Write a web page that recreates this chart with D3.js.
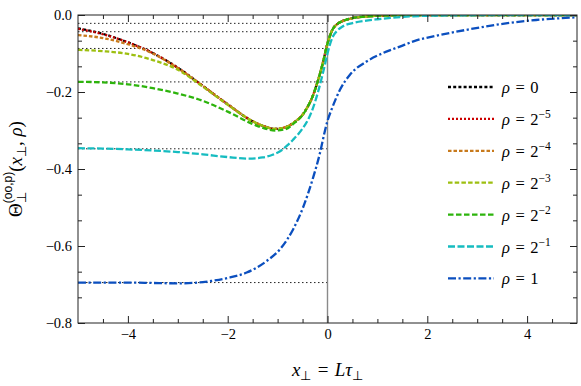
<!DOCTYPE html>
<html>
<head>
<meta charset="utf-8">
<script src="https://cdn.jsdelivr.net/npm/d3@7"></script>
<style>
	body { margin: 0; background: #fff; }
	svg text { white-space: pre; fill: #000; }
	.tick line { stroke: #222; }
</style>
</head>
<body>
<svg id="chart" width="581" height="386"></svg>
<script>
// values
const rho0 = [[-5, -0.0345], [-4.5, -0.049], [-4, -0.071], [-3.5, -0.099], [-3, -0.137], [-2.5, -0.184], [-2, -0.232], [-1.5, -0.276], [-1.25, -0.29], [-1.05, -0.296], [-0.85, -0.292], [-0.65, -0.277], [-0.5, -0.259], [-0.4, -0.239], [-0.3, -0.212], [-0.2, -0.174], [-0.1, -0.128], [0, -0.074], [0.1, -0.038], [0.2, -0.023], [0.3, -0.016], [0.5, -0.008], [0.75, -0.004], [1, -0.002], [1.5, -0.0005], [2.5, 0], [5, 0]];
const rhoM5 = [[-5, -0.036], [-4.5, -0.05], [-4, -0.071], [-3.5, -0.099], [-3, -0.137], [-2.5, -0.184], [-2, -0.232], [-1.5, -0.276], [-1.25, -0.29], [-1.05, -0.296], [-0.85, -0.292], [-0.65, -0.277], [-0.5, -0.259], [-0.4, -0.239], [-0.3, -0.212], [-0.2, -0.174], [-0.1, -0.128], [0, -0.074], [0.1, -0.038], [0.2, -0.023], [0.3, -0.016], [0.5, -0.008], [0.75, -0.004], [1, -0.002], [1.5, -0.0005], [2.5, 0], [5, 0]];
const rhoM4 = [[-5, -0.052], [-4.5, -0.06], [-4, -0.076], [-3.5, -0.1], [-3, -0.138], [-2.5, -0.184], [-2, -0.232], [-1.5, -0.276], [-1.25, -0.29], [-1.05, -0.296], [-0.85, -0.292], [-0.65, -0.277], [-0.5, -0.259], [-0.4, -0.239], [-0.3, -0.212], [-0.2, -0.174], [-0.1, -0.128], [0, -0.074], [0.1, -0.038], [0.2, -0.023], [0.3, -0.016], [0.5, -0.008], [0.75, -0.004], [1, -0.002], [1.5, -0.0005], [2.5, 0], [5, 0]];
const rhoM3 = [[-5, -0.0906], [-4.5, -0.094], [-4, -0.101], [-3.5, -0.117], [-3, -0.142], [-2.5, -0.186], [-2, -0.233], [-1.5, -0.276], [-1.25, -0.29], [-1.05, -0.296], [-0.85, -0.292], [-0.65, -0.277], [-0.5, -0.259], [-0.4, -0.239], [-0.3, -0.212], [-0.2, -0.174], [-0.1, -0.128], [0, -0.074], [0.1, -0.038], [0.2, -0.023], [0.3, -0.016], [0.5, -0.008], [0.75, -0.004], [1, -0.002], [1.5, -0.0005], [2.5, 0], [5, 0]];
const rhoM2 = [[-5, -0.1735], [-4.5, -0.175], [-4, -0.18], [-3.5, -0.19], [-3, -0.204], [-2.5, -0.223], [-2, -0.251], [-1.5, -0.283], [-1.25, -0.295], [-1.05, -0.3], [-0.85, -0.297], [-0.65, -0.279], [-0.5, -0.26], [-0.4, -0.239], [-0.3, -0.212], [-0.2, -0.174], [-0.1, -0.128], [0, -0.074], [0.1, -0.038], [0.2, -0.023], [0.3, -0.016], [0.5, -0.008], [0.75, -0.004], [1, -0.002], [1.5, -0.0005], [2.5, 0], [5, 0]];
const rhoM1 = [[-5, -0.346], [-4.5, -0.347], [-4, -0.349], [-3.5, -0.352], [-3, -0.356], [-2.5, -0.362], [-2, -0.369], [-1.6, -0.373], [-1.3, -0.37], [-1.1, -0.363], [-0.95, -0.354], [-0.8, -0.338], [-0.69, -0.324], [-0.5, -0.295], [-0.39, -0.272], [-0.3, -0.245], [-0.19, -0.2], [-0.1, -0.155], [-0.05, -0.128], [0, -0.1], [0.1, -0.058], [0.2, -0.04], [0.3, -0.03], [0.5, -0.021], [0.75, -0.015], [1, -0.011], [1.5, -0.005], [2, -0.002], [3, -0.0005], [5, 0]];
const rho1 = [[-5, -0.695], [-4, -0.695], [-3.5, -0.696], [-3, -0.697], [-2.5, -0.694], [-2.29, -0.69], [-2, -0.683], [-1.62, -0.669], [-1.22, -0.639], [-0.95, -0.608], [-0.69, -0.557], [-0.49, -0.5], [-0.29, -0.423], [-0.15, -0.358], [-0.05, -0.3], [0, -0.275], [0.08, -0.246], [0.25, -0.194], [0.45, -0.155], [0.78, -0.121], [1.11, -0.099], [1.45, -0.082], [1.78, -0.066], [2.18, -0.054], [2.85, -0.037], [3.51, -0.023], [4.18, -0.013], [4.85, -0.007], [5, -0.006]];

// asymptotic values for x -> -inf (dotted guides)
const asymptotes = [-0.0217, -0.0434, -0.0869, -0.1738, -0.3475, -0.695];

const legendExp = [null, '−5', '−4', '−3', '−2', '−1', null];
const legendBase = ['0', '2', '2', '2', '2', '2', '1'];
const seriesColors = ['#000000', '#cc0000', '#c87a1c', '#9dbf10', '#2db40c', '#16bcc0', '#0b4fbf'];
const seriesDash = ['3,2.2', '2,2', '3.5,2', '4.5,2.2', '5.5,2.5', '7,2.5', '8,2.5,2.2,2.5'];
const series = [rho0, rhoM5, rhoM4, rhoM3, rhoM2, rhoM1, rho1];

const xMajor = [-4, -2, 0, 2, 4];
const xMinor = [-4.5, -3.5, -3, -2.5, -1.5, -1, -0.5, 0.5, 1, 1.5, 2.5, 3, 3.5, 4.5];
const yMajor = [0, -0.2, -0.4, -0.6, -0.8];
const yMinor = [-1, -2, -4, -5, -7, -8, -10, -11].map(i => i * 0.2 / 3);

const SERIF = "'Liberation Serif', 'Times New Roman', serif";
const SANS = "'Liberation Sans', 'DejaVu Sans', sans-serif";
const EQ = '\u2004=\u2004';

const $svg = d3.select('#chart');

const LEFT = 78;
const RIGHT = 577;
const TOP = 15;
const BOTTOM = 323;

const x = d3.scaleLinear().domain([-5, 5]).range([LEFT, RIGHT]);
const y = d3.scaleLinear().domain([-0.8, 0]).range([BOTTOM, TOP]);

$svg.append('defs').append('clipPath').attr('id', 'clip')
	.append('rect')
	.attr('x', LEFT).attr('y', TOP)
	.attr('width', RIGHT - LEFT).attr('height', BOTTOM - TOP);

const $plot = $svg.append('g').attr('clip-path', 'url(#clip)');

// dotted guides
$plot.selectAll('.guide')
	.data(asymptotes)
	.enter()
	.append('line')
	.attr('class', 'guide')
	.attr('x1', x(-5)).attr('x2', x(0))
	.attr('y1', d => y(d)).attr('y2', d => y(d))
	.attr('stroke', '#222')
	.attr('stroke-width', 1)
	.attr('stroke-dasharray', '1.5,2.5');

// x = 0 line
$plot.append('line')
	.attr('x1', x(0)).attr('x2', x(0))
	.attr('y1', TOP).attr('y2', BOTTOM)
	.attr('stroke', '#8a8a8a')
	.attr('stroke-width', 1.4);

const line = d3.line()
	.x(d => x(d[0]))
	.y(d => y(d[1]))
	.curve(d3.curveMonotoneX);

$plot.selectAll('.curve')
	.data(series)
	.enter()
	.append('path')
	.attr('class', 'curve')
	.attr('d', line)
	.attr('fill', 'none')
	.attr('stroke', (d, i) => seriesColors[i])
	.attr('stroke-width', 2.3)
	.attr('stroke-dasharray', (d, i) => seriesDash[i]);

// axes, ticks pointing inward on all four sides
function addAxis(axisFn, scale, vals, size, tr, fmt) {
	const a = axisFn(scale).tickValues(vals).tickSize(-size).tickPadding(6);
	a.tickFormat(fmt || '');
	const $a = $svg.append('g').attr('transform', tr).call(a);
	$a.attr('font-family', SERIF).attr('font-size', 14.5);
	$a.select('.domain').remove();
	return $a;
}

const fmtY = d3.format('.1f');
const fmtX = d3.format('d');
addAxis(d3.axisBottom, x, xMajor, 7, `translate(0,${BOTTOM})`, fmtX);
addAxis(d3.axisBottom, x, xMinor, 4, `translate(0,${BOTTOM})`);
addAxis(d3.axisTop, x, xMajor, 7, `translate(0,${TOP})`);
addAxis(d3.axisTop, x, xMinor, 4, `translate(0,${TOP})`);
addAxis(d3.axisLeft, y, yMajor, 7, `translate(${LEFT},0)`, fmtY);
addAxis(d3.axisLeft, y, yMinor, 4, `translate(${LEFT},0)`);
addAxis(d3.axisRight, y, yMajor, 7, `translate(${RIGHT},0)`);
addAxis(d3.axisRight, y, yMinor, 4, `translate(${RIGHT},0)`);

$svg.selectAll('.tick line').attr('stroke-width', 1);

$svg.append('rect')
	.attr('x', LEFT).attr('y', TOP)
	.attr('width', RIGHT - LEFT).attr('height', BOTTOM - TOP)
	.attr('fill', 'none')
	.attr('stroke', '#222')
	.attr('stroke-width', 1);

// little helper for math-ish labels: pieces placed one after another
function mathText($g, parts, base) {
	let cx = 0;
	let lastStart = 0;
	const $t = $g.append('g');
	parts.forEach(p => {
		const start = p.stack ? lastStart : cx;
		const el = $t.append('text')
			.attr('x', start)
			.attr('y', p.dy || 0)
			.attr('font-family', p.sans ? SANS : SERIF)
			.attr('font-size', p.size || base)
			.attr('font-style', p.it ? 'italic' : 'normal')
			.text(p.t);
		const w = el.node().getComputedTextLength();
		lastStart = start;
		cx = p.stack ? Math.max(cx, start + w) : start + w;
	});
	return { $t, width: cx };
}

// x label
const $xl = $svg.append('g');
const xl = mathText($xl, [
	{ t: 'x', it: true },
	{ t: '⊥', size: 13, dy: 4 },
	{ t: EQ },
	{ t: 'L', it: true },
	{ t: 'τ', it: true },
	{ t: '⊥', size: 13, dy: 4 }
], 19);
$xl.attr('transform', `translate(${x(0) - xl.width / 2},376)`);

// y label
const $yl = $svg.append('g');
const yl = mathText($yl, [
	{ t: 'Θ' },
	{ t: '⊥', size: 13, dy: 4 },
	{ t: '(oo,p)', size: 12, dy: -10, sans: true, stack: true },
	{ t: '(' },
	{ t: 'x', it: true },
	{ t: '⊥', size: 13, dy: 4 },
	{ t: ', ' },
	{ t: 'ρ', it: true },
	{ t: ')' }
], 19);
yl.$t.attr('transform', `translate(${-yl.width / 2},0)`);
$yl.attr('transform', `translate(22,${(TOP + BOTTOM) / 2}) rotate(-90)`);

// legend
const $legend = $svg.append('g');
const rowY = i => 87 + i * 31.9;
series.forEach((s, i) => {
	$legend.append('line')
		.attr('x1', 448).attr('x2', 494)
		.attr('y1', rowY(i)).attr('y2', rowY(i))
		.attr('stroke', seriesColors[i])
		.attr('stroke-width', 2.3)
		.attr('stroke-dasharray', seriesDash[i]);
	const $row = $legend.append('g').attr('transform', `translate(502,${rowY(i) + 6})`);
	const parts = [{ t: 'ρ', it: true }, { t: EQ }, { t: legendBase[i] }];
	if (legendExp[i]) parts.push({ t: legendExp[i], size: 11.5, dy: -7 });
	mathText($row, parts, 16.5);
});
</script>
</body>
</html>
